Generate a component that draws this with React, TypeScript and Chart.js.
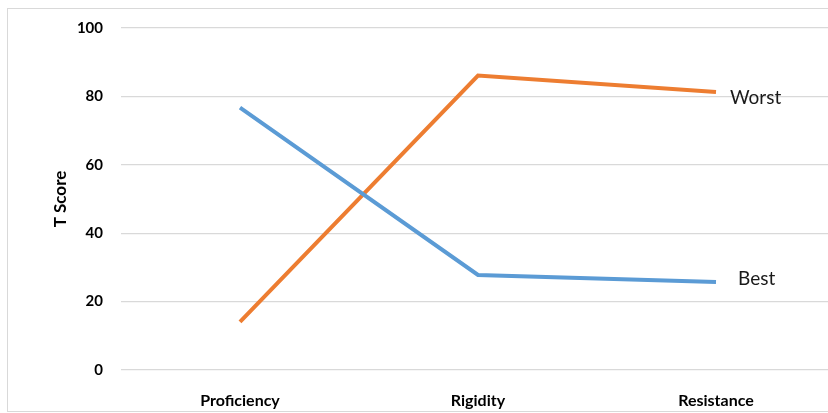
import React, { useEffect, useRef } from "react";
import { Chart, registerables } from "chart.js";

Chart.register(...registerables);

const categories = ["Proficiency", "Rigidity", "Resistance"];
const bestScores = [76.7, 27.8, 25.7];
const worstScores = [14.1, 86.1, 81.3];
const yTicks = [0, 20, 40, 60, 80, 100];

const FONT = "Lato, 'Liberation Sans', sans-serif";

// Writes the series name just to the right of each line's last point.
const endLabels = {
  id: "endLabels",
  afterDatasetsDraw(chart: any) {
    const ctx = chart.ctx;
    ctx.save();
    ctx.font = `19px ${FONT}`;
    ctx.fillStyle = "#1a1a1a";
    ctx.textBaseline = "middle";
    ctx.textAlign = "left";
    chart.data.datasets.forEach((ds: any, i: number) => {
      const meta = chart.getDatasetMeta(i);
      const last = meta.data[meta.data.length - 1];
      if (!last) return;
      const off = ds.labelOffset || { x: 14, y: 0 };
      ctx.fillText(ds.label, last.x + off.x, last.y + off.y);
    });
    ctx.restore();
  },
};

export default function App() {
  const ref = useRef<HTMLCanvasElement>(null);

  useEffect(() => {
    if (!ref.current) return;
    const chart = new Chart(ref.current, {
      type: "line",
      data: {
        labels: categories,
        datasets: [
          {
            label: "Best",
            data: bestScores,
            borderColor: "#5B9BD5",
            backgroundColor: "#5B9BD5",
            borderWidth: 4,
            pointRadius: 0,
            tension: 0,
            labelOffset: { x: 22, y: -3 },
          } as any,
          {
            label: "Worst",
            data: worstScores,
            borderColor: "#ED7D31",
            backgroundColor: "#ED7D31",
            borderWidth: 4,
            pointRadius: 0,
            tension: 0,
            labelOffset: { x: 14, y: 6 },
          } as any,
        ],
      },
      options: {
        responsive: false,
        animation: false,
        layout: { padding: { top: 28, right: 0, bottom: 0, left: 0 } },
        plugins: {
          legend: { display: false },
          tooltip: { enabled: false },
        },
        scales: {
          x: {
            offset: true,
            grid: { display: false },
            border: { display: false },
            ticks: {
              color: "#000",
              padding: 13,
              font: { family: FONT, size: 16, weight: "bold" },
            },
            afterFit(axis: any) {
              axis.height = 43;
            },
          },
          y: {
            min: 0,
            max: 100,
            afterBuildTicks(axis: any) {
              axis.ticks = yTicks.map((v) => ({ value: v }));
            },
            grid: { color: "#d9d9d9", lineWidth: 1.3, drawTicks: false },
            border: { display: false },
            ticks: {
              color: "#000",
              padding: 18,
              font: { family: FONT, size: 15, weight: "bold" },
            },
            title: {
              display: true,
              text: "T Score",
              color: "#000",
              padding: { top: 50, bottom: 0 },
              font: { family: FONT, size: 17, weight: "bold" },
            },
            afterFit(axis: any) {
              axis.width = 121;
            },
          },
        },
      },
      plugins: [endLabels],
    });
    return () => chart.destroy();
  }, []);

  return (
    <div
      style={{
        position: "fixed",
        left: 0,
        top: 0,
        width: 828,
        height: 413,
        overflow: "hidden",
        background: "#fff",
      }}
    >
      <div
        style={{
          position: "absolute",
          left: 7,
          top: 8,
          width: 840,
          height: 402,
          border: "1px solid #d9d9d9",
        }}
      />
      <canvas
        ref={ref}
        width={835}
        height={413}
        style={{ position: "absolute", left: 0, top: 0 }}
      />
    </div>
  );
}
